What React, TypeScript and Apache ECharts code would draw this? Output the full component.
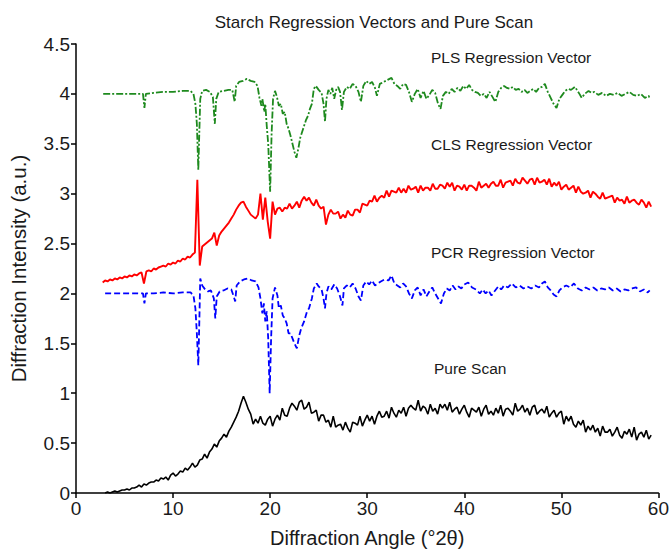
import React, { useEffect, useRef } from "react";
import * as echarts from "echarts";

const titleText = "Starch Regression Vectors and Pure Scan";
const xName = "Diffraction Angle (\u00b02\u03b8)";
const yName = "Diffraction Intensity (a.u.)";
const seriesNames = ["PLS Regression Vector", "CLS Regression Vector", "PCR Regression Vector", "Pure Scan"];

// shared diffraction-angle grid (°2θ) for CLS and Pure Scan
const angleGrid = [
  2.75,
  3, 3.25, 3.5, 3.75, 4, 4.25, 4.5, 4.75, 5, 5.25, 5.5, 5.75, 6, 6.25, 6.5, 6.75,
  7, 7.25, 7.5, 7.75, 8, 8.25, 8.5, 8.75, 9, 9.25, 9.5, 9.75, 10, 10.25, 10.5, 10.75,
  11, 11.25, 11.5, 11.75, 12, 12.25, 12.5, 12.75, 13, 13.25, 13.5, 13.75, 14, 14.25, 14.5, 14.75,
  15, 15.25, 15.5, 15.75, 16, 16.25, 16.5, 16.75, 17, 17.25, 17.5, 17.75, 18, 18.25, 18.5, 18.75,
  19, 19.25, 19.5, 19.75, 20, 20.25, 20.5, 20.75, 21, 21.25, 21.5, 21.75, 22, 22.25, 22.5, 22.75,
  23, 23.25, 23.5, 23.75, 24, 24.25, 24.5, 24.75, 25, 25.25, 25.5, 25.75, 26, 26.25, 26.5, 26.75,
  27, 27.25, 27.5, 27.75, 28, 28.25, 28.5, 28.75, 29, 29.25, 29.5, 29.75, 30, 30.25, 30.5, 30.75,
  31, 31.25, 31.5, 31.75, 32, 32.25, 32.5, 32.75, 33, 33.25, 33.5, 33.75, 34, 34.25, 34.5, 34.75,
  35, 35.25, 35.5, 35.75, 36, 36.25, 36.5, 36.75, 37, 37.25, 37.5, 37.75, 38, 38.25, 38.5, 38.75,
  39, 39.25, 39.5, 39.75, 40, 40.25, 40.5, 40.75, 41, 41.25, 41.5, 41.75, 42, 42.25, 42.5, 42.75,
  43, 43.25, 43.5, 43.75, 44, 44.25, 44.5, 44.75, 45, 45.25, 45.5, 45.75, 46, 46.25, 46.5, 46.75,
  47, 47.25, 47.5, 47.75, 48, 48.25, 48.5, 48.75, 49, 49.25, 49.5, 49.75, 50, 50.25, 50.5, 50.75,
  51, 51.25, 51.5, 51.75, 52, 52.25, 52.5, 52.75, 53, 53.25, 53.5, 53.75, 54, 54.25, 54.5, 54.75,
  55, 55.25, 55.5, 55.75, 56, 56.25, 56.5, 56.75, 57, 57.25, 57.5, 57.75, 58, 58.25, 58.5, 58.75,
  59, 59.25,
];

const pureScan = [
  null,
  0.00, 0.01, 0.00, 0.01, 0.02, 0.01, 0.02, 0.03, 0.03, 0.04, 0.03, 0.05, 0.05, 0.06, 0.08, 0.06,
  0.09, 0.08, 0.10, 0.11, 0.11, 0.13, 0.12, 0.15, 0.14, 0.16, 0.13, 0.18, 0.20, 0.17, 0.19, 0.22,
  0.21, 0.25, 0.23, 0.26, 0.30, 0.26, 0.28, 0.33, 0.34, 0.39, 0.35, 0.41, 0.44, 0.49, 0.46, 0.52,
  0.55, 0.59, 0.56, 0.62, 0.66, 0.71, 0.76, 0.82, 0.90, 0.97, 0.91, 0.84, 0.79, 0.69, 0.74, 0.70,
  0.77, 0.70, 0.68, 0.74, 0.77, 0.67, 0.74, 0.78, 0.73, 0.85, 0.78, 0.77, 0.85, 0.90, 0.87, 0.83,
  0.91, 0.93, 0.84, 0.86, 0.91, 0.80, 0.81, 0.83, 0.72, 0.78, 0.78, 0.71, 0.73, 0.66, 0.77, 0.66,
  0.68, 0.69, 0.63, 0.71, 0.65, 0.61, 0.71, 0.70, 0.68, 0.77, 0.67, 0.73, 0.78, 0.72, 0.77, 0.69,
  0.77, 0.82, 0.76, 0.77, 0.82, 0.75, 0.86, 0.80, 0.76, 0.83, 0.80, 0.86, 0.77, 0.85, 0.88, 0.85,
  0.83, 0.93, 0.82, 0.87, 0.85, 0.79, 0.89, 0.82, 0.85, 0.79, 0.89, 0.85, 0.89, 0.83, 0.91, 0.81,
  0.84, 0.86, 0.79, 0.84, 0.88, 0.81, 0.76, 0.85, 0.83, 0.81, 0.86, 0.77, 0.84, 0.88, 0.79, 0.82,
  0.78, 0.85, 0.80, 0.88, 0.77, 0.84, 0.85, 0.82, 0.78, 0.90, 0.82, 0.84, 0.88, 0.81, 0.85, 0.78,
  0.86, 0.88, 0.79, 0.82, 0.84, 0.80, 0.87, 0.76, 0.80, 0.83, 0.76, 0.80, 0.82, 0.69, 0.77, 0.72,
  0.77, 0.69, 0.66, 0.72, 0.68, 0.73, 0.61, 0.67, 0.63, 0.68, 0.61, 0.65, 0.57, 0.67, 0.61, 0.61,
  0.64, 0.57, 0.61, 0.66, 0.58, 0.55, 0.62, 0.59, 0.64, 0.56, 0.66, 0.53, 0.59, 0.61, 0.56, 0.63,
  0.54, 0.58,
];

const clsVector = [
  2.11,
  2.13, 2.12, 2.14, 2.13, 2.15, 2.14, 2.16, 2.15, 2.17, 2.16, 2.18, 2.17, 2.19, 2.18, 2.20, 2.21,
  2.10, 2.22, 2.23, 2.22, 2.25, 2.24, 2.26, 2.27, 2.28, 2.27, 2.30, 2.29, 2.31, 2.30, 2.33, 2.32,
  2.35, 2.34, 2.37, 2.36, 2.39, 2.41, 3.14, 2.28, 2.47, 2.49, 2.51, 2.53, 2.55, 2.61, 2.48, 2.58,
  2.62, 2.65, 2.68, 2.71, 2.75, 2.79, 2.84, 2.88, 2.91, 2.92, 2.87, 2.83, 2.79, 2.77, 2.75, 2.79,
  3.00, 2.74, 2.96, 2.72, 2.55, 2.92, 2.79, 2.85, 2.86, 2.82, 2.86, 2.85, 2.90, 2.85, 2.88, 2.92,
  2.86, 2.93, 2.97, 2.93, 2.96, 2.91, 2.88, 2.94, 2.88, 2.85, 2.87, 2.69, 2.79, 2.84, 2.80, 2.80,
  2.82, 2.75, 2.79, 2.76, 2.83, 2.79, 2.78, 2.84, 2.84, 2.81, 2.90, 2.89, 2.88, 2.93, 2.92, 2.98,
  2.92, 2.96, 2.98, 2.96, 3.03, 2.97, 3.03, 3.02, 3.01, 3.06, 3.01, 3.05, 3.01, 3.08, 3.04, 3.05,
  3.07, 3.01, 3.08, 3.03, 3.06, 3.06, 3.03, 3.10, 3.05, 3.05, 3.09, 3.08, 3.05, 3.11, 3.07, 3.11,
  3.03, 3.08, 3.07, 3.04, 3.09, 3.03, 3.08, 3.08, 3.06, 3.03, 3.12, 3.06, 3.08, 3.10, 3.06, 3.10,
  3.12, 3.08, 3.08, 3.14, 3.06, 3.11, 3.12, 3.13, 3.08, 3.15, 3.11, 3.10, 3.16, 3.13, 3.10, 3.14,
  3.15, 3.09, 3.16, 3.11, 3.12, 3.14, 3.09, 3.15, 3.07, 3.11, 3.08, 3.12, 3.04, 3.07, 3.09, 3.04,
  3.06, 3.08, 3.01, 3.07, 3.02, 3.00, 3.01, 3.03, 2.96, 3.02, 3.00, 2.97, 2.95, 3.01, 2.95, 2.96,
  2.97, 2.98, 2.91, 2.96, 2.93, 2.94, 2.90, 2.97, 2.91, 2.93, 2.94, 2.91, 2.89, 2.94, 2.91, 2.86,
  2.92, 2.87,
];

// [angle, intensity] pairs
const plsVector = [
  [2.8, 4.0], [4, 4.0], [5, 4.0], [6, 4.0], [6.9, 4.0], [7.05, 3.86], [7.2, 4.0], [8, 4.01], [9, 4.02], [10, 4.02],
  [11, 4.03], [11.8, 4.03], [12.1, 4.0], [12.3, 3.9], [12.45, 3.7], [12.6, 3.24], [12.7, 3.6], [12.8, 3.95], [13.0, 4.03],
  [13.4, 4.04], [13.8, 4.02], [14.1, 3.97], [14.3, 3.7], [14.45, 3.95], [14.7, 4.02], [15.2, 4.03], [15.7, 4.04],
  [16.1, 4.04], [16.35, 3.92], [16.5, 4.08], [16.8, 4.12], [17.2, 4.13], [17.6, 4.15], [18.0, 4.13], [18.4, 4.12],
  [18.7, 4.08], [18.9, 3.96], [19.1, 3.88], [19.2, 3.95], [19.4, 3.82], [19.5, 3.9], [19.65, 3.68], [19.8, 3.5],
  [20.0, 3.02], [20.15, 3.6], [20.3, 3.95], [20.5, 4.03], [20.7, 3.97], [20.9, 3.88], [21.1, 3.9], [21.3, 3.8],
  [21.5, 3.82], [21.7, 3.7], [21.9, 3.65], [22.1, 3.58], [22.3, 3.5], [22.5, 3.42], [22.7, 3.36], [22.9, 3.45],
  [23.1, 3.56], [23.3, 3.62], [23.5, 3.68], [23.7, 3.74], [23.9, 3.78], [24.1, 3.85], [24.3, 3.9], [24.5, 4.05],
  [24.7, 4.08], [25.0, 4.04], [25.3, 4.01], [25.5, 3.9], [25.65, 3.72], [25.8, 3.95], [26.0, 4.04], [26.2, 4.0],
  [26.4, 4.06], [26.6, 3.95], [26.8, 4.04], [27.0, 4.07], [27.2, 4.02], [27.4, 3.84], [27.6, 4.02], [27.9, 4.07],
  [28.2, 4.05], [28.5, 4.1], [28.8, 4.08], [29.1, 4.02], [29.35, 3.92], [29.6, 4.08], [29.9, 4.13], [30.2, 4.1],
  [30.5, 4.12], [30.8, 4.06], [31.0, 3.98], [31.3, 4.1], [31.7, 4.12], [32.1, 4.14], [32.5, 4.16], [32.8, 4.1],
  [33.1, 4.08], [33.4, 4.05], [33.7, 4.1], [34.0, 4.09], [34.3, 4.02], [34.6, 3.92], [34.9, 4.0], [35.2, 4.05],
  [35.5, 3.96], [35.8, 4.03], [36.1, 3.95], [36.4, 3.99], [36.7, 4.04], [37.0, 4.01], [37.3, 3.9], [37.55, 3.85],
  [37.8, 3.98], [38.1, 4.02], [38.4, 4.0], [38.7, 4.05], [39.0, 4.02], [39.3, 4.06], [39.6, 4.03], [39.9, 4.08],
  [40.2, 4.05], [40.5, 4.09], [40.8, 4.04], [41.1, 4.02], [41.4, 4.01], [41.7, 3.98], [42.0, 4.0], [42.3, 3.96],
  [42.6, 4.02], [42.9, 3.97], [43.2, 3.92], [43.5, 4.02], [43.8, 4.06], [44.1, 4.08], [44.4, 4.06], [44.7, 4.05],
  [45.0, 4.07], [45.3, 4.04], [45.6, 4.05], [45.9, 4.02], [46.2, 4.04], [46.5, 4.01], [46.8, 4.03], [47.1, 4.05],
  [47.4, 4.02], [47.7, 4.06], [48.0, 4.07], [48.3, 4.1], [48.6, 4.02], [48.9, 3.96], [49.2, 3.9], [49.5, 3.86],
  [49.8, 3.95], [50.1, 3.99], [50.4, 4.03], [50.7, 4.05], [51.0, 4.04], [51.4, 4.07], [51.8, 4.01], [52.1, 3.96],
  [52.4, 4.0], [52.8, 4.03], [53.1, 4.01], [53.4, 4.02], [53.8, 3.99], [54.2, 4.01], [54.6, 3.98], [55.0, 4.0],
  [55.4, 3.99], [55.8, 4.01], [56.2, 3.98], [56.6, 4.0], [57.0, 4.02], [57.4, 3.99], [57.8, 3.98], [58.2, 4.0],
  [58.6, 3.96], [59.0, 3.98], [59.1, 3.95],
];

const pcrVector = [
  [3.0, 2.0], [4, 2.0], [5, 2.0], [6, 2.0], [6.9, 2.0], [7.05, 1.9], [7.2, 2.0], [8, 2.0], [9, 2.01], [10, 2.0],
  [11, 2.01], [11.8, 2.01], [12.1, 1.98], [12.3, 1.85], [12.45, 1.6], [12.6, 1.28], [12.7, 1.7], [12.8, 2.15],
  [13.0, 2.08], [13.3, 2.04], [13.6, 2.02], [13.9, 2.03], [14.2, 1.95], [14.35, 1.75], [14.5, 1.97], [14.8, 2.02],
  [15.2, 2.03], [15.6, 2.05], [16.0, 2.04], [16.25, 1.97], [16.4, 1.92], [16.55, 2.08], [16.9, 2.12], [17.3, 2.14],
  [17.7, 2.15], [18.1, 2.13], [18.5, 2.12], [18.8, 2.06], [19.0, 1.95], [19.2, 1.8], [19.35, 1.9], [19.5, 1.72],
  [19.65, 1.82], [19.8, 1.55], [19.95, 1.0], [20.1, 1.55], [20.25, 1.95], [20.5, 2.06], [20.75, 1.98], [20.9, 1.85],
  [21.1, 1.88], [21.3, 1.78], [21.5, 1.75], [21.7, 1.7], [21.9, 1.6], [22.1, 1.6], [22.3, 1.55], [22.5, 1.5],
  [22.75, 1.45], [23.0, 1.58], [23.2, 1.65], [23.5, 1.72], [23.8, 1.82], [24.0, 1.85], [24.3, 1.95], [24.5, 2.05],
  [24.8, 2.1], [25.0, 2.07], [25.3, 2.04], [25.5, 1.95], [25.65, 1.85], [25.8, 2.0], [26.0, 2.07], [26.3, 2.04],
  [26.6, 2.09], [26.9, 2.05], [27.2, 1.97], [27.45, 1.88], [27.6, 2.05], [27.9, 2.08], [28.2, 2.06], [28.5, 2.1],
  [28.8, 2.05], [29.1, 1.97], [29.35, 1.93], [29.6, 2.08], [29.9, 2.12], [30.2, 2.09], [30.5, 2.13], [30.8, 2.08],
  [31.1, 2.1], [31.4, 2.12], [31.8, 2.14], [32.2, 2.13], [32.5, 2.18], [32.8, 2.1], [33.1, 2.08], [33.4, 2.06],
  [33.7, 2.1], [34.0, 2.07], [34.3, 2.0], [34.6, 1.95], [34.9, 2.03], [35.2, 2.06], [35.5, 1.98], [35.8, 2.04],
  [36.1, 1.97], [36.4, 2.02], [36.7, 2.06], [37.0, 2.0], [37.3, 1.95], [37.6, 1.9], [37.9, 2.0], [38.2, 2.05],
  [38.5, 2.03], [38.8, 2.08], [39.1, 2.04], [39.4, 2.07], [39.7, 2.05], [40.0, 2.09], [40.4, 2.11], [40.8, 2.06],
  [41.2, 2.04], [41.6, 2.0], [41.9, 2.04], [42.2, 2.0], [42.5, 2.03], [42.8, 1.98], [43.1, 2.02], [43.5, 2.07],
  [43.8, 2.04], [44.1, 2.08], [44.5, 2.06], [44.9, 2.1], [45.3, 2.06], [45.7, 2.08], [46.1, 2.05], [46.5, 2.07],
  [46.9, 2.05], [47.3, 2.08], [47.7, 2.06], [48.0, 2.1], [48.3, 2.12], [48.6, 2.06], [48.9, 2.03], [49.2, 1.99],
  [49.5, 1.97], [49.8, 2.03], [50.1, 2.06], [50.5, 2.08], [50.9, 2.06], [51.3, 2.1], [51.7, 2.05], [52.1, 2.03],
  [52.5, 2.06], [52.9, 2.04], [53.3, 2.06], [53.7, 2.03], [54.1, 2.05], [54.5, 2.04], [54.9, 2.06], [55.3, 2.03],
  [55.7, 2.05], [56.1, 2.02], [56.5, 2.04], [56.9, 2.03], [57.3, 2.05], [57.7, 2.06], [58.1, 2.02], [58.5, 2.04],
  [58.9, 2.01], [59.1, 2.03],
];

const FONT = "'Liberation Sans', Arial, Helvetica, sans-serif";

export default function App() {
  const ref = useRef<HTMLDivElement>(null);
  useEffect(() => {
    if (!ref.current) return;
    const chart = echarts.init(ref.current, undefined, { renderer: "svg" });
    const gridPairs = (ys: (number | null)[]) => angleGrid.map((a, i) => [a, ys[i]]);
    const labelStyle = { fontSize: 15.5, fill: "#1a1a1a", fontFamily: FONT };
    chart.setOption({
      animation: false,
      backgroundColor: "#ffffff",
      title: {
        text: titleText,
        left: 369,
        top: 9,
        textAlign: "center",
        textStyle: { fontSize: 17, fontWeight: "normal", color: "#1a1a1a", fontFamily: FONT },
      },
      grid: { left: 74, right: 11, top: 44, bottom: 53, containLabel: false },
      xAxis: {
        type: "value",
        min: 0,
        max: 60,
        interval: 10,
        name: xName,
        nameLocation: "middle",
        nameGap: 35,
        nameTextStyle: { fontSize: 20, color: "#1a1a1a", fontFamily: FONT },
        axisLine: { show: true, lineStyle: { color: "#000", width: 1.5 } },
        axisTick: { show: true, inside: false, length: 5, lineStyle: { color: "#000", width: 1.5 } },
        axisLabel: { fontSize: 19, color: "#1a1a1a", margin: 6, fontFamily: FONT },
        splitLine: { show: false },
      },
      yAxis: {
        type: "value",
        min: 0,
        max: 4.5,
        interval: 0.5,
        name: yName,
        nameLocation: "middle",
        nameRotate: 90,
        nameGap: 47,
        nameTextStyle: { fontSize: 20.5, color: "#1a1a1a", fontFamily: FONT },
        axisLine: { show: true, lineStyle: { color: "#000", width: 1.5 } },
        axisTick: { show: true, inside: false, length: 5, lineStyle: { color: "#000", width: 1.5 } },
        axisLabel: { fontSize: 19, color: "#1a1a1a", margin: 6, fontFamily: FONT },
        splitLine: { show: false },
      },
      graphic: [
        { type: "text", left: 431, top: 49, style: { text: seriesNames[0], ...labelStyle } },
        { type: "text", left: 431, top: 136, style: { text: seriesNames[1], ...labelStyle } },
        { type: "text", left: 431, top: 244, style: { text: seriesNames[2], ...labelStyle } },
        { type: "text", left: 434, top: 360, style: { text: seriesNames[3], ...labelStyle } },
      ],
      series: [
        {
          name: seriesNames[0],
          type: "line",
          data: plsVector,
          showSymbol: false,
          lineStyle: { color: "#1e8a1e", width: 1.8, type: [7, 2, 2, 2] },
        },
        {
          name: seriesNames[1],
          type: "line",
          data: gridPairs(clsVector),
          showSymbol: false,
          lineStyle: { color: "#ff0000", width: 1.9 },
        },
        {
          name: seriesNames[2],
          type: "line",
          data: pcrVector,
          showSymbol: false,
          lineStyle: { color: "#0000ff", width: 1.8, type: [6, 3] },
        },
        {
          name: seriesNames[3],
          type: "line",
          data: gridPairs(pureScan),
          showSymbol: false,
          connectNulls: false,
          lineStyle: { color: "#000000", width: 1.6 },
        },
      ],
    });
    return () => chart.dispose();
  }, []);
  return (
    <div
      ref={ref}
      style={{ position: "fixed", left: 0, top: 0, width: 672, height: 553, background: "#fff" }}
    />
  );
}
